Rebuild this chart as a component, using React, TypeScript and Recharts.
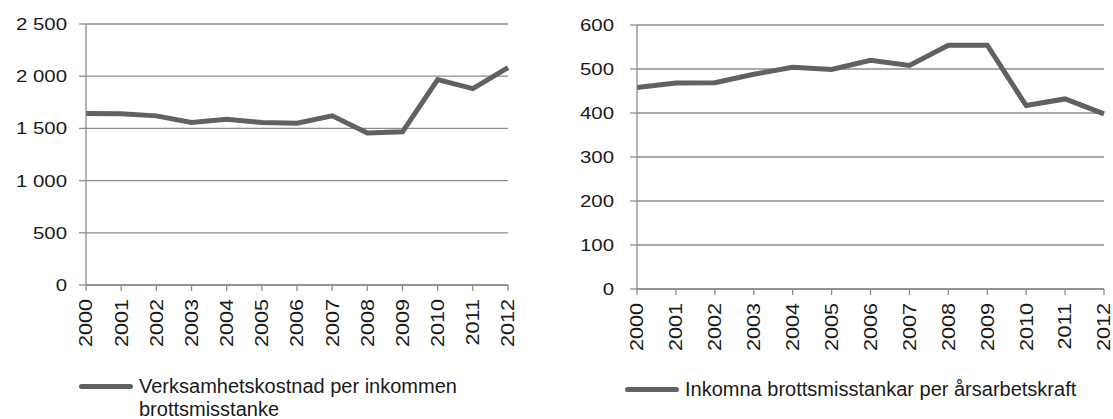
import React from 'react';
import { LineChart, Line, XAxis, YAxis, CartesianGrid, Legend } from 'recharts';

const YEARS = ['2000', '2001', '2002', '2003', '2004', '2005', '2006', '2007', '2008', '2009', '2010', '2011', '2012'];
const COST_PER_SUSPICION = [1642, 1640, 1620, 1556, 1588, 1556, 1550, 1620, 1457, 1467, 1968, 1881, 2083];
const SUSPICIONS_PER_FTE = [458, 468, 469, 488, 504, 499, 520, 508, 554, 554, 417, 432, 398];
const COST_TICKS = [0, 500, 1000, 1500, 2000, 2500];
const FTE_TICKS = [0, 100, 200, 300, 400, 500, 600];

const COST_LABEL = 'Verksamhetskostnad per inkommen brottsmisstanke';
const FTE_LABEL = 'Inkomna brottsmisstankar per årsarbetskraft';

const LINE_COLOR = '#616161';
const GRID_COLOR = '#8c8c8c';
const TEXT_COLOR = '#1a1a1a';
const FONT = '"Liberation Sans", Arial, Helvetica, sans-serif';

const costData = YEARS.map((year, i) => ({ year, value: COST_PER_SUSPICION[i] }));
const fteData = YEARS.map((year, i) => ({ year, value: SUSPICIONS_PER_FTE[i] }));

// thousands with a space, like "2 500"
const spaced = (v: number) => String(v).replace(/\B(?=(\d{3})+(?!\d))/g, '\u00a0');

const YTick = ({ x, y, payload, fmt }: any) => (
  <g transform={`translate(${x},${y})`}>
    <text transform="scale(1.2,1)" textAnchor="end" dy="0.355em" fontSize={17} fontFamily={FONT} fill={TEXT_COLOR}>
      {fmt ? fmt(payload.value) : payload.value}
    </text>
  </g>
);

const XTick = ({ x, y, payload }: any) => (
  <g transform={`translate(${x},${y})`}>
    <text transform="rotate(-90) scale(1.2,1)" textAnchor="end" dy="0.355em" fontSize={18} fontFamily={FONT} fill={TEXT_COLOR}>
      {payload.value}
    </text>
  </g>
);

const LegendItem = ({ label, textWidth }: { label: string; textWidth: number }) => (
  <div style={{ display: 'flex', alignItems: 'flex-start', fontFamily: FONT, fontSize: 20, lineHeight: '23px', color: TEXT_COLOR }}>
    <span style={{ display: 'block', flexShrink: 0, width: 54, height: 5, borderRadius: 3, background: LINE_COLOR, marginTop: 9, marginRight: 6 }} />
    <span style={{ width: textWidth }}>{label}</span>
  </div>
);

export default function App() {
  return (
    <div style={{ position: 'absolute', left: 0, top: 0, width: 1113, height: 419, background: '#fff', overflow: 'hidden' }}>
      <div style={{ position: 'absolute', left: 0, top: 0 }}>
        <LineChart width={540} height={419} data={costData} margin={{ top: 24, right: 32, bottom: 0, left: 0 }}>
          <CartesianGrid vertical={false} stroke={GRID_COLOR} strokeWidth={1.3} />
          <XAxis
            dataKey="year"
            interval={0}
            height={134}
            tickSize={6}
            tickMargin={8}
            stroke={GRID_COLOR}
            strokeWidth={1.3}
            tick={(p: any) => <XTick {...p} />}
          />
          <YAxis
            width={86}
            domain={[0, 2500]}
            ticks={COST_TICKS}
            interval={0}
            tickSize={7}
            tickMargin={12}
            stroke={GRID_COLOR}
            strokeWidth={1.3}
            tick={(p: any) => <YTick {...p} fmt={spaced} />}
          />
          <Legend
            layout="vertical"
            align="center"
            verticalAlign="middle"
            wrapperStyle={{ left: 79, top: 375, width: 440 }}
            content={() => <LegendItem label={COST_LABEL} textWidth={340} />}
          />
          <Line type="linear" dataKey="value" stroke={LINE_COLOR} strokeWidth={5} dot={false} activeDot={false} isAnimationActive={false} />
        </LineChart>
      </div>
      <div style={{ position: 'absolute', left: 540, top: 0 }}>
        <LineChart width={573} height={419} data={fteData} margin={{ top: 25, right: 9, bottom: 0, left: 0 }}>
          <CartesianGrid vertical={false} stroke={GRID_COLOR} strokeWidth={1.3} />
          <XAxis
            dataKey="year"
            interval={0}
            height={130}
            tickSize={6}
            tickMargin={8}
            stroke={GRID_COLOR}
            strokeWidth={1.3}
            tick={(p: any) => <XTick {...p} />}
          />
          <YAxis
            width={97}
            domain={[0, 600]}
            ticks={FTE_TICKS}
            interval={0}
            tickSize={7}
            tickMargin={16}
            stroke={GRID_COLOR}
            strokeWidth={1.3}
            tick={(p: any) => <YTick {...p} />}
          />
          <Legend
            layout="vertical"
            align="center"
            verticalAlign="middle"
            wrapperStyle={{ left: 85, top: 378, width: 480 }}
            content={() => <LegendItem label={FTE_LABEL} textWidth={420} />}
          />
          <Line type="linear" dataKey="value" stroke={LINE_COLOR} strokeWidth={5} dot={false} activeDot={false} isAnimationActive={false} />
        </LineChart>
      </div>
    </div>
  );
}
